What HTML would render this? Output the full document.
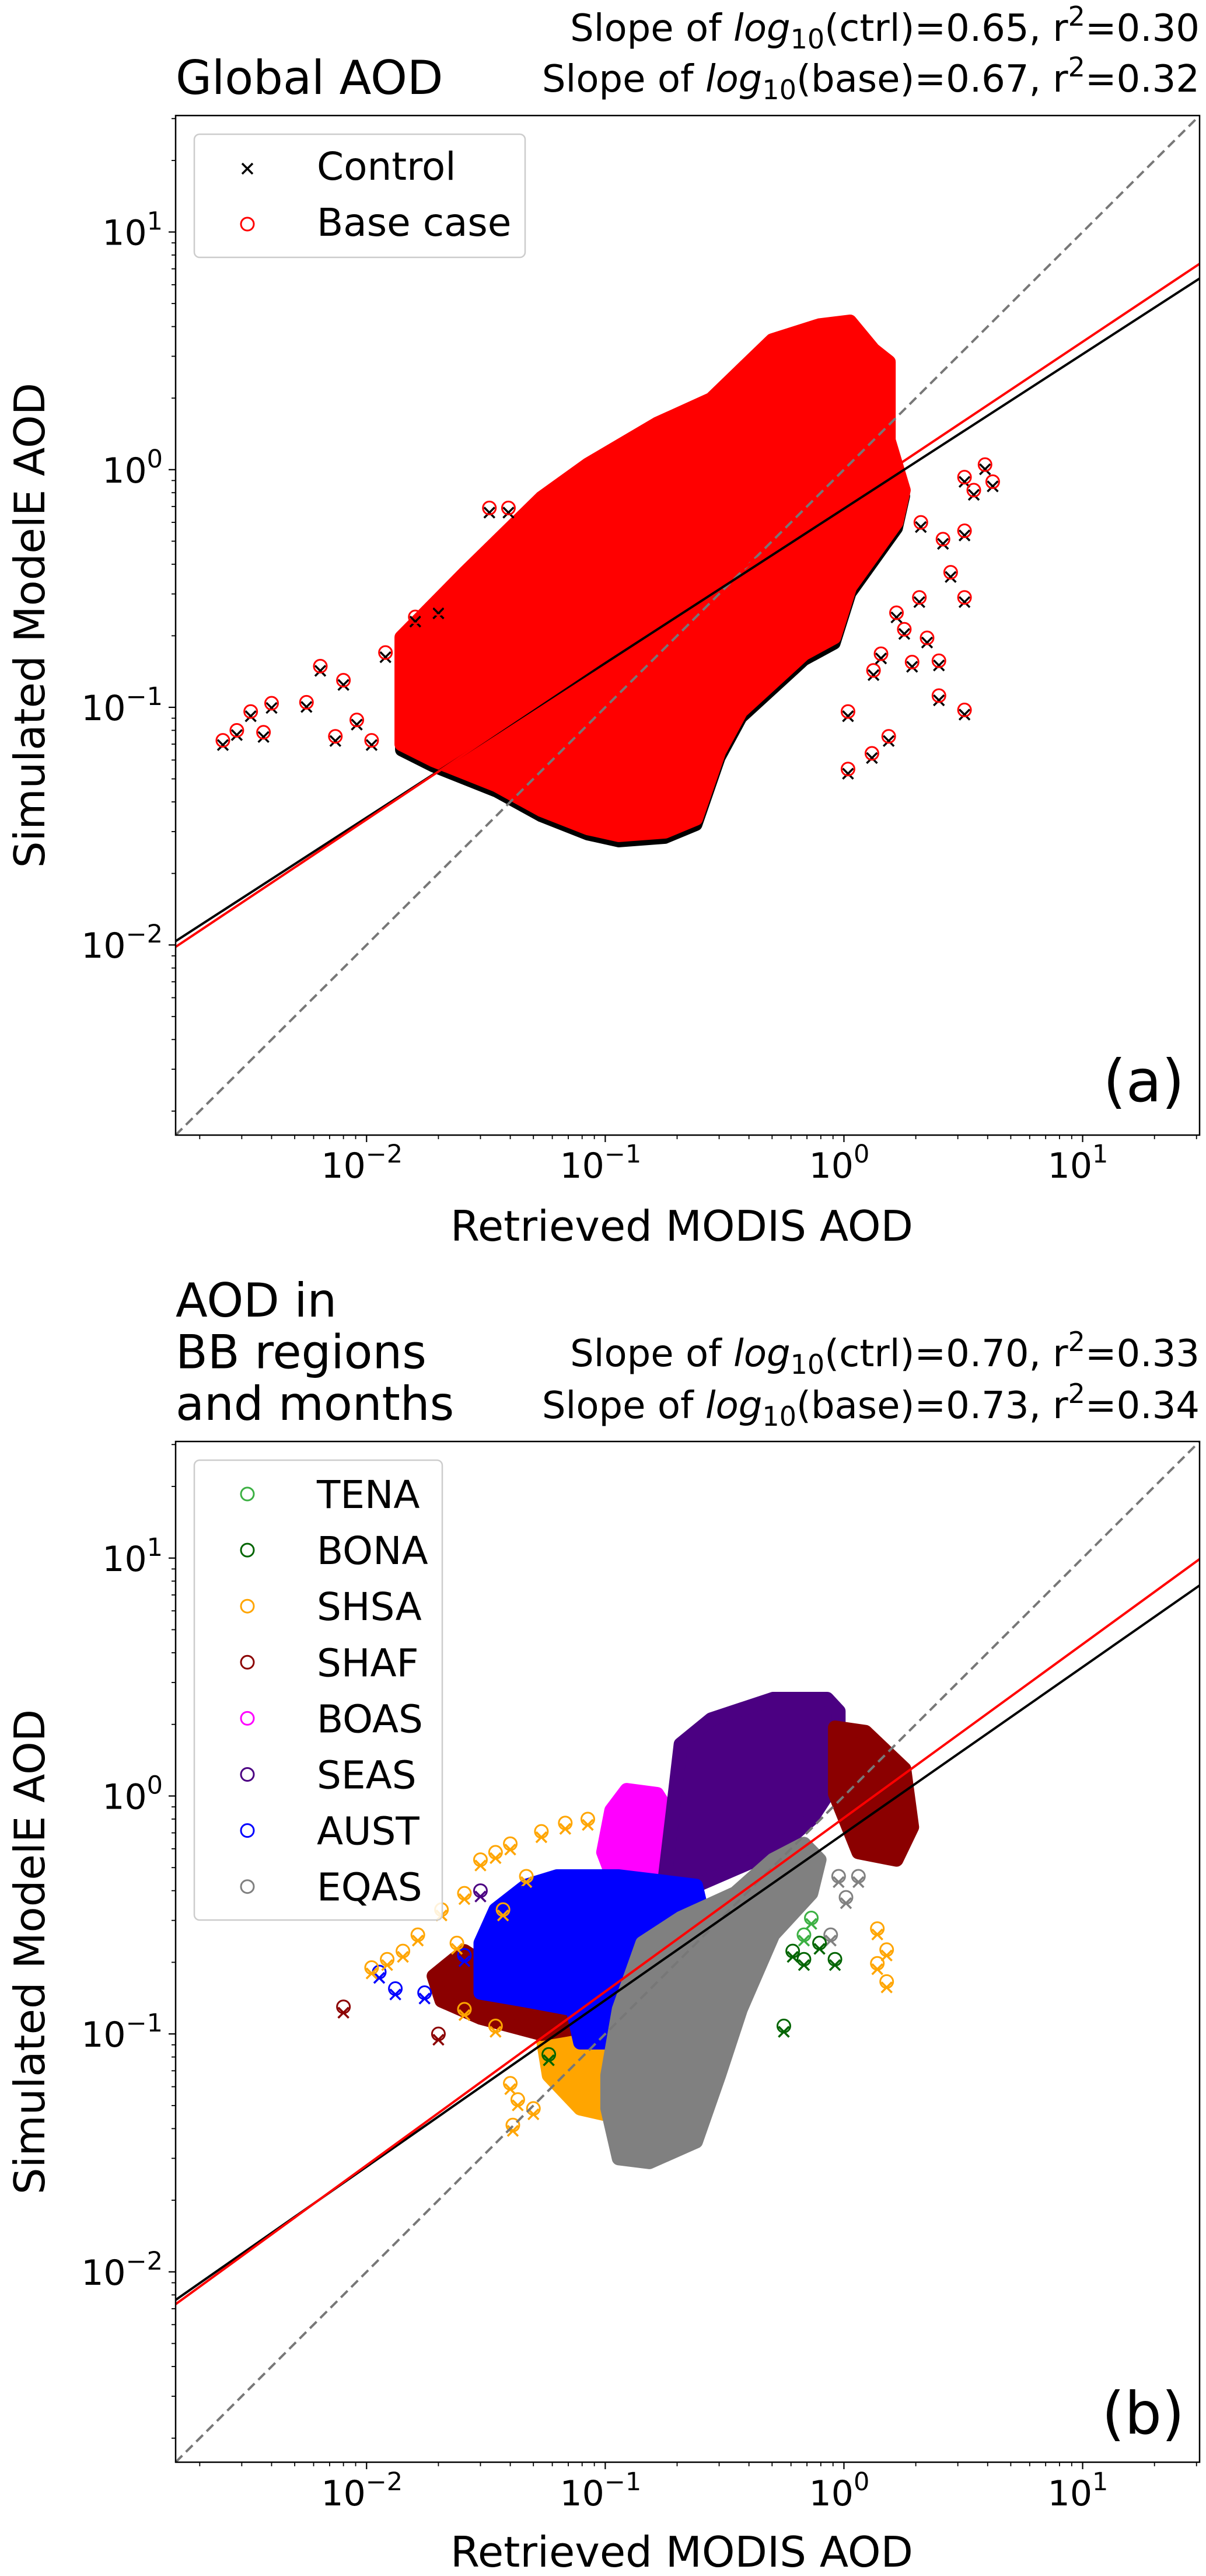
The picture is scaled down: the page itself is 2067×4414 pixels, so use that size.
<!DOCTYPE html>
<html><head><meta charset="utf-8">
<style>
html,body{margin:0;padding:0;background:#fff;}
svg{display:block;font-family:"DejaVu Sans","Liberation Sans",sans-serif;}
</style></head>
<body>
<svg id="fig" width="2067" height="4414" viewBox="0 0 2067 4414" xmlns="http://www.w3.org/2000/svg">
</svg>
<script>
// ---------- DATA ----------
const xTickVals = [0.01, 0.1, 1, 10];
const xTickExp = ["\u22122", "\u22121", "0", "1"];
const yTickVals = [0.01, 0.1, 1, 10];
const yTickExp = ["\u22122", "\u22121", "0", "1"];
// regression fits [slope, intercept] in log10 space
const fitA_ctrl = [0.65, -0.164];
const fitA_base = [0.67, -0.132];
const fitB_ctrl = [0.70, -0.158];
const fitB_base = [0.73, -0.092];
// Panel (a) dense cloud outline
const cloudA_x = [0.014,0.026,0.054,0.0845,0.165,0.278,0.50,0.79,1.06,1.33,1.54,1.54,1.78,1.66,1.06,0.91,0.68,0.37,0.30,0.24,0.178,0.114,0.0845,0.054,0.035,0.019,0.014];
const cloudA_y = [0.197,0.37,0.76,1.05,1.56,1.98,3.5,4.05,4.2,3.19,2.84,1.33,0.82,0.60,0.32,0.197,0.168,0.096,0.065,0.034,0.030,0.029,0.031,0.037,0.047,0.060,0.070];
// Panel (a) outliers
const outA_x = [0.0025,0.00286,0.00327,0.0037,0.0040,0.0056,0.0064,0.0074,0.0080,0.0091,0.0105,0.0327,0.0393,1.04,1.31,1.54,1.04,2.5,3.2,3.2,3.9,4.2,3.5,2.1,2.6,3.2,2.8,3.2,2.07,1.66,1.79,2.23,2.5,1.93,1.33,1.43,0.012,0.016,0.02];
const outA_y = [0.0726,0.080,0.096,0.0785,0.104,0.105,0.149,0.0755,0.130,0.0885,0.0726,0.69,0.69,0.055,0.064,0.0755,0.096,0.112,0.0975,0.93,1.05,0.89,0.82,0.60,0.51,0.553,0.37,0.29,0.29,0.25,0.213,0.196,0.157,0.155,0.143,0.168,0.17,0.24,0.26];
// Panel (b) region names and colors
const regions = ["TENA","BONA","SHSA","SHAF","BOAS","SEAS","AUST","EQAS"];
const regionColors = ["#3cb043","#006400","#ffa500","#8b0000","#ff00ff","#4b0082","#0000ff","#808080"];
// Panel (b) cloud outlines
const shsa_x = [0.054,0.0845,0.114,0.11,0.0785,0.058];
const shsa_y = [0.104,0.108,0.085,0.045,0.0486,0.067];
const shafL_x = [0.0191,0.0257,0.0373,0.0628,0.0845,0.054,0.030,0.0206];
const shafL_y = [0.175,0.223,0.175,0.127,0.108,0.10,0.117,0.138];
const shafR_x = [0.917,1.23,1.79,1.93,1.66,1.15,0.917];
const shafR_y = [1.94,1.86,1.30,0.74,0.54,0.58,1.02];
const boas_x = [0.106,0.123,0.165,0.192,0.178,0.114,0.098];
const boas_y = [0.87,1.06,1.02,0.80,0.46,0.39,0.58];
const seas_x = [0.192,0.207,0.278,0.505,0.85,0.95,0.95,0.73,0.505,0.24,0.178];
const seas_y = [0.87,1.65,2.1,2.56,2.56,2.27,1.2,0.80,0.58,0.42,0.46];
const aust_x = [0.030,0.0347,0.0467,0.0628,0.114,0.24,0.258,0.132,0.106,0.106,0.0785,0.073,0.0467,0.030];
const aust_y = [0.241,0.333,0.42,0.46,0.46,0.42,0.307,0.241,0.127,0.092,0.092,0.127,0.138,0.149];
const eqas_x = [0.102,0.114,0.143,0.207,0.35,0.505,0.68,0.79,0.73,0.505,0.37,0.30,0.24,0.153,0.114,0.102];
const eqas_y = [0.067,0.127,0.241,0.307,0.39,0.54,0.63,0.54,0.39,0.261,0.127,0.067,0.0353,0.0289,0.030,0.0486];
// Panel (b) scattered points
const ptsB_x = [1.38,1.51,1.38,1.51,0.041,0.0113,0.0132,0.0175,0.0257,0.95,1.02,1.15,0.88,0.61,0.68,0.79,0.917,0.56,0.058,0.73,0.68,0.0080,0.020,
  0.0105,0.0122,0.0142,0.0164,0.0206,0.0257,0.030,0.0347,0.040,0.054,0.068,0.0845,0.0467,0.0373,0.0239,0.0257,0.0347,0.040,0.043,0.050,0.030,0.045];
const ptsB_y = [0.277,0.226,0.198,0.166,0.0414,0.182,0.155,0.149,0.214,0.46,0.375,0.46,0.261,0.223,0.206,0.241,0.206,0.108,0.082,0.307,0.261,0.13,0.10,
  0.19,0.206,0.223,0.261,0.333,0.39,0.54,0.58,0.63,0.71,0.77,0.80,0.46,0.333,0.241,0.127,0.108,0.062,0.053,0.0486,0.40,0.39];
const ptsB_reg = [2,2,2,2,2,6,6,6,6,7,7,7,7,1,1,1,1,1,1,0,0,3,3,
  2,2,2,2,2,2,2,2,2,2,2,2,2,2,2,2,2,2,2,2,5,6];

// ---------- DRAW ----------
const NS = "http://www.w3.org/2000/svg";
const svg = document.getElementById("fig");
const LMIN = -2.8, LMAX = 1.49;
const L = 301, R = 2056;
function mk(tag, attrs, parent, text) {
  const e = document.createElementNS(NS, tag);
  for (const k in attrs) e.setAttribute(k, attrs[k]);
  if (text !== undefined) e.textContent = text;
  (parent || svg).appendChild(e);
  return e;
}
function xs(v) { return L + (Math.log10(v) - LMIN) / (LMAX - LMIN) * (R - L); }
function ysF(T, B) { return v => B - (Math.log10(v) - LMIN) / (LMAX - LMIN) * (B - T); }

function drawXMark(g, x, y, color) {
  const s = 9;
  const p = mk("path", {d:`M${x-s},${y-s}L${x+s},${y+s}M${x-s},${y+s}L${x+s},${y-s}`, stroke:color, "stroke-width":3.5, fill:"none"}, g);
  
  
}
function drawCircle(g, x, y, color) {
  const c = mk("circle", {cx:x, cy:y, r:11, stroke:color, "stroke-width":3, fill:"none"}, g);
  
  
}
function polyPts(xa, ya, ys, dy) { return xa.map((v,i)=>xs(v).toFixed(1)+","+(ys(ya[i])+(dy||0)).toFixed(1)).join(" "); }

function axesFrame(T, B, name, tickBase, labelBase) {
  const ys = ysF(T, B);
  const g = mk("g", {});
  
  
  for (let d = -3; d <= 1; d++) {
    for (let m = 2; m <= 9; m++) {
      const v = m * Math.pow(10, d);
      const lv = Math.log10(v);
      if (lv < LMIN || lv > LMAX) continue;
      mk("line", {x1:xs(v), x2:xs(v), y1:B, y2:B+7, stroke:"#000", "stroke-width":1.8}, g);
      mk("line", {x1:L, x2:L-7, y1:ys(v), y2:ys(v), stroke:"#000", "stroke-width":1.8}, g);
    }
  }
  xTickVals.forEach((v,i)=>{
    mk("line", {x1:xs(v), x2:xs(v), y1:B, y2:B+12, stroke:"#000", "stroke-width":2.2}, g);
    const t = mk("text", {x:xs(v)-8, y:tickBase, "font-size":60, "text-anchor":"middle"}, g);
    
    
    mk("tspan", {}, t, "10");
    mk("tspan", {dy:-26, "font-size":43}, t, xTickExp[i]);
  });
  yTickVals.forEach((v,i)=>{
    mk("line", {x1:L, x2:L-12, y1:ys(v), y2:ys(v), stroke:"#000", "stroke-width":2.2}, g);
    const t = mk("text", {x:L-22, y:ys(v)+22, "font-size":60, "text-anchor":"end"}, g);
    
    
    mk("tspan", {}, t, "10");
    mk("tspan", {dy:-26, "font-size":43}, t, yTickExp[i]);
  });
  const xl = mk("text", {x:(L+R)/2 - 10, y:labelBase, "font-size":72, "text-anchor":"middle"}, g, "Retrieved MODIS AOD");
  
  
  const cy = (T+B)/2;
  const yl = mk("text", {x:0, y:0, "font-size":72, "text-anchor":"middle", transform:`translate(76,${cy}) rotate(-90)`}, g, "Simulated ModelE AOD");
  
  
  return ys;
}
function drawLines(T, B, fc, fb, name) {
  const ys = ysF(T, B);
  const g = mk("g", {});
  
  
  const d = mk("line", {x1:xs(Math.pow(10,LMIN)), y1:ys(Math.pow(10,LMIN)), x2:xs(Math.pow(10,LMAX)), y2:ys(Math.pow(10,LMAX)), stroke:"#777", "stroke-width":4, "stroke-dasharray":"16 9"}, g);
  
  
  [[fc,"#000","control-fit-line"],[fb,"#f00","base-fit-line"]].forEach(([f,c,n])=>{
    const y0 = f[0]*LMIN + f[1], y1 = f[0]*LMAX + f[1];
    const ln = mk("line", {x1:L, y1:ys(Math.pow(10,y0)), x2:R, y2:ys(Math.pow(10,y1)), stroke:c, "stroke-width":4}, g);
    
    
  });
  const fr = mk("rect", {x:L, y:T, width:R-L, height:B-T, fill:"none", stroke:"#000", "stroke-width":2.5}, g);
  
  
}
function clip(T, B, id) {
  const defs = mk("defs", {});
  const cp = mk("clipPath", {id:id}, defs);
  mk("rect", {x:L, y:T, width:R-L, height:B-T}, cp);
}
function statText(y, lab, slope, r2, name) {
  const tt = mk("text", {x:2056, y:y, "font-size":64, "text-anchor":"end"});
  
  
  mk("tspan", {}, tt, "Slope of ");
  mk("tspan", {"font-style":"italic"}, tt, "log");
  mk("tspan", {"font-size":46, dy:13}, tt, "10");
  mk("tspan", {dy:-13}, tt, "(" + lab + ")=" + slope + ", r");
  mk("tspan", {"font-size":46, dy:-26}, tt, "2");
  mk("tspan", {dy:26}, tt, "=" + r2);
}

// ===== Panel (a) =====
const TA = 198, BA = 1945;
clip(TA, BA, "clipA");
const ysA = axesFrame(TA, BA, "panel-a", 2018, 2126);
const gA = mk("g", {"clip-path":"url(#clipA)"});


const ctrlCloud = mk("polygon", {points:polyPts(cloudA_x, cloudA_y, ysA, 10), fill:"#000", stroke:"#000", "stroke-width":22, "stroke-linejoin":"round"}, gA);


const baseCloud = mk("polygon", {points:polyPts(cloudA_x, cloudA_y, ysA), fill:"#f00", stroke:"#f00", "stroke-width":24, "stroke-linejoin":"round"}, gA);


outA_x.forEach((v,i)=>{
  drawXMark(gA, xs(v), ysA(outA_y[i])+8, "#000");
  drawCircle(gA, xs(v), ysA(outA_y[i]), "#f00");
});
drawLines(TA, BA, fitA_ctrl, fitA_base, "panel-a");

let t;
t = mk("text", {x:301, y:161, "font-size":80}, svg, "Global AOD");
 
statText(70, "ctrl", "0.65", "0.30", "panel-a-ctrl-stats");
statText(157, "base", "0.67", "0.32", "panel-a-base-stats");

const lgA = mk("g", {});


mk("rect", {x:333, y:230, width:567, height:211, rx:9, fill:"#fff", "fill-opacity":0.85, stroke:"#ccc", "stroke-width":2.5}, lgA);
drawXMark(lgA, 424, 289, "#000");
t = mk("text", {x:543, y:308, "font-size":66}, lgA, "Control");
 
drawCircle(lgA, 424, 384, "#f00");
t = mk("text", {x:543, y:404, "font-size":66}, lgA, "Base case");
 
t = mk("text", {x:2030, y:1887, "font-size":100, "text-anchor":"end"}, svg, "(a)");
 

// ===== Panel (b) =====
const TB = 2470, BB = 4219;
clip(TB, BB, "clipB");
const ysB = axesFrame(TB, BB, "panel-b", 4293, 4398);
const gB = mk("g", {"clip-path":"url(#clipB)"});


const clouds = [[shsa_x,shsa_y,2],[shafL_x,shafL_y,3],[boas_x,boas_y,4],[seas_x,seas_y,5],[shafR_x,shafR_y,3],[aust_x,aust_y,6],[eqas_x,eqas_y,7]];
clouds.forEach(([cx,cy,ri])=>{
  const p = mk("polygon", {points:polyPts(cx, cy, ysB), fill:regionColors[ri], stroke:regionColors[ri], "stroke-width":24, "stroke-linejoin":"round"}, gB);
  
  
});
ptsB_x.forEach((v,i)=>{
  const c = regionColors[ptsB_reg[i]];
  drawXMark(gB, xs(v), ysB(ptsB_y[i])+10, c);
  drawCircle(gB, xs(v), ysB(ptsB_y[i]), c);
});
drawLines(TB, BB, fitB_ctrl, fitB_base, "panel-b");

["AOD in","BB regions","and months"].forEach((s,i)=>{
  t = mk("text", {x:301, y:2256+88.5*i, "font-size":80}, svg, s);
  
  
});
statText(2341, "ctrl", "0.70", "0.33", "panel-b-ctrl-stats");
statText(2430, "base", "0.73", "0.34", "panel-b-base-stats");

const lgB = mk("g", {});


mk("rect", {x:333, y:2502, width:425, height:788, rx:9, fill:"#fff", "fill-opacity":0.85, stroke:"#ccc", "stroke-width":2.5}, lgB);
regions.forEach((r,i)=>{
  const cy = 2560 + 96.1*i;
  drawCircle(lgB, 424, cy, regionColors[i]);
  const tx = mk("text", {x:543, y:cy+24, "font-size":66}, lgB, r);
  
  
});
t = mk("text", {x:2030, y:4170, "font-size":100, "text-anchor":"end"}, svg, "(b)");
 
</script>
</body></html>
